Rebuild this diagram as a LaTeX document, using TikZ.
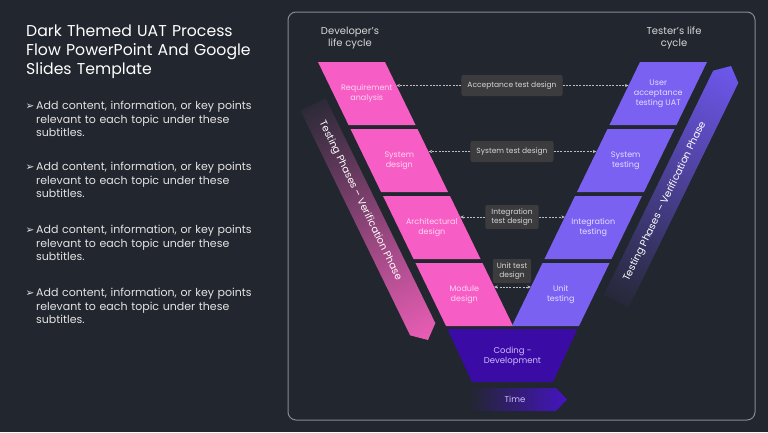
\documentclass[tikz,border=0pt]{standalone}
\usepackage{fontspec}
\setmainfont{Poppins}
\newfontfamily\symfont{DejaVu Sans}
\usetikzlibrary{arrows.meta}
\definecolor{bg}{HTML}{22262E}
\definecolor{panelline}{HTML}{858A93}
\definecolor{pinkb}{HTML}{F65EC5}
\definecolor{pinktxt}{HTML}{FFD6F1}
\definecolor{purpb}{HTML}{7A61F2}
\definecolor{purptxt}{HTML}{E6DEFF}
\definecolor{indigo}{HTML}{3A0CA5}
\definecolor{indigob}{HTML}{4514C0}
\definecolor{lavtxt}{HTML}{CDBBFF}
\definecolor{boxfill}{HTML}{3C3C3F}
\definecolor{boxtxt}{HTML}{D6D6D6}
\definecolor{dashc}{HTML}{BEBEBE}
\definecolor{bandtop}{HTML}{2D2A38}
\definecolor{bandmid}{HTML}{77396F}
\definecolor{bandpink}{HTML}{EA5EB6}
\definecolor{bandbot}{HTML}{262838}
\definecolor{bandmidp}{HTML}{473B9C}
\definecolor{bandpurp}{HTML}{6E57EE}
\definecolor{headtxt}{HTML}{D8D8D8}
\definecolor{bodytxt}{HTML}{E4E4E4}

\newcommand\lblock[3]{%
  \pgfmathsetmacro\xa{318+0.485*(#1-62)}%
  \pgfmathsetmacro\xb{\xa+0.485*63}%
  \fill[pinkb] (\xa,-#1) -- (\xa+67,-#1) -- (\xb+67,-#1-63) -- (\xb,-#1-63) -- cycle;
  \node[lt] (#2) at (\xa/2+\xb/2+33.5,-#1-31.5) {#3};
}
\newcommand\rblock[3]{%
  \pgfmathsetmacro\xa{318+0.485*(#1-62)}%
  \pgfmathsetmacro\xb{\xa+0.485*63}%
  \fill[purpb] (1025-\xa,-#1) -- (958-\xa,-#1) -- (958-\xb,-#1-63) -- (1025-\xb,-#1-63) -- cycle;
  \node[rt] (#2) at (991.5-\xa/2-\xb/2,-#1-31.5) {#3};
}

\begin{document}
\begin{tikzpicture}[x=1pt,y=1pt,
  blk/.style={font=\fontsize{8}{10}\selectfont, align=center, inner sep=0pt},
  lt/.style={blk, text=pinktxt},
  rt/.style={blk, text=purptxt},
  lbl/.style={fill=boxfill, rounded corners=2pt, text=boxtxt, font=\fontsize{7.5}{9}\selectfont, align=center, inner xsep=6pt, inner ysep=0pt, minimum height=21pt},
  dasharrow/.style={draw=dashc, line width=0.6pt, dash pattern=on 2pt off 1.3pt, -{Stealth[length=3.5pt,width=3.2pt]}},
  head/.style={text=headtxt, font=\fontsize{10}{12.5}\selectfont, align=center, inner sep=0pt},
  bandtxt/.style={text=white, font=\fontsize{10}{12}\selectfont, inner sep=0pt},
  body/.style={text=bodytxt, font=\fontsize{11}{13.5}\selectfont, align=left, inner sep=0pt, anchor=base west, text width=250pt},
  bul/.style={text=bodytxt, font=\symfont\fontsize{10.5}{11}\selectfont, inner sep=0pt, anchor=base west}
]
\useasboundingbox (0,0) rectangle (768,-432);
\fill[bg] (0,0) rectangle (768,-432);

% left column
\node[body, text=white, font=\fontsize{15.7}{19}\selectfont, text width=270pt] (title) at (26,-36)
  {Dark Themed UAT Process\\Flow PowerPoint And Google\\Slides Template};
\foreach \yy/\nm in {109.5/b1,170.5/b2,233.5/b3,296.5/b4}{
  \node[bul] (\nm m) at (25.5,-\yy) {➢};
  \node[body] (\nm) at (36,-\yy) {Add content, information, or key points\\relevant to each topic under these\\subtitles.};
}

% panel
\draw[panelline, line width=1pt, rounded corners=8pt] (288,-12) rectangle (755,-420);

% headers
\node[head] (dev) at (350,-38) {Developer’s\\life cycle};
\node[head] (tes) at (674,-38) {Tester’s life\\cycle};

% bands
\begin{scope}[transform canvas={shift={(428,-340)}, rotate=-64}]
  \shade[left color=bandtop, middle color=bandmid, right color=bandpink]
    (-262,-14) -- (-12,-14) -- (0,0) -- (-12,14) -- (-262,14) -- cycle;
\end{scope}
\begin{scope}[transform canvas={shift={(731,-66)}, rotate=64}]
  \shade[left color=bandbot, middle color=bandmidp, right color=bandpurp]
    (-262,-14) -- (-12,-14) -- (0,0) -- (-12,14) -- (-262,14) -- cycle;
\end{scope}
\node[bandtxt, rotate=-64] (lband) at (360.1,-200.7) {Testing Phases – Verification Phase};
\node[bandtxt, rotate=64] (rband) at (664.9,-201.7) {Testing Phases – Verification Phase};

% blocks
\lblock{62}{req}{Requirement\\analysis}
\lblock{129}{sysd}{System\\design}
\lblock{196}{arch}{Architectural\\design}
\lblock{263}{mod}{Module\\design}
\rblock{62}{uat}{User\\acceptance\\testing UAT}
\rblock{129}{syst}{System\\testing}
\rblock{196}{intt}{Integration\\testing}
\rblock{263}{unitt}{Unit\\testing}

% coding
\fill[indigo] (447.5,-329) -- (577.5,-329) -- (553,-382) -- (472,-382) -- cycle;
\node[blk, text=lavtxt, font=\fontsize{8.5}{10}\selectfont] (coding) at (512.5,-356) {Coding -\\Development};

% time
\shade[left color=bg, right color=indigob] (468,-388) -- (556,-388) -- (567,-399.5) -- (556,-411) -- (468,-411) -- cycle;
\node[blk, text=lavtxt, font=\fontsize{8.5}{10}\selectfont] (time) at (515,-399.5) {Time};

% middle labels
\node[lbl] (acc) at (512,-85.5) {Acceptance test design};
\node[lbl] (sysl) at (512,-151.5) {System test design};
\node[lbl, minimum height=24pt] (intl) at (512,-217) {Integration\\test design};
\node[lbl, minimum height=24pt, inner xsep=4pt] (unitl) at (512,-271) {Unit test\\design};

\coordinate (a1) at (396.6,-85.5);  \coordinate (a2) at (628.4,-85.5);
\coordinate (s1) at (428.7,-151.5); \coordinate (s2) at (596.3,-151.5);
\coordinate (i1) at (460.2,-217);   \coordinate (i2) at (564.8,-217);
\coordinate (u1) at (494.1,-287);   \coordinate (u2) at (530.9,-287);

\draw[dasharrow] (acc.west) -- (a1);
\draw[dasharrow] (acc.east) -- (a2);
\draw[dasharrow] (sysl.west) -- (s1);
\draw[dasharrow] (sysl.east) -- (s2);
\draw[dasharrow] (intl.west) -- (i1);
\draw[dasharrow] (intl.east) -- (i2);
\draw[dasharrow, {Stealth[length=3.5pt,width=3.2pt]}-{Stealth[length=3.5pt,width=3.2pt]}] (u1) -- (u2);
\end{tikzpicture}
\end{document}
